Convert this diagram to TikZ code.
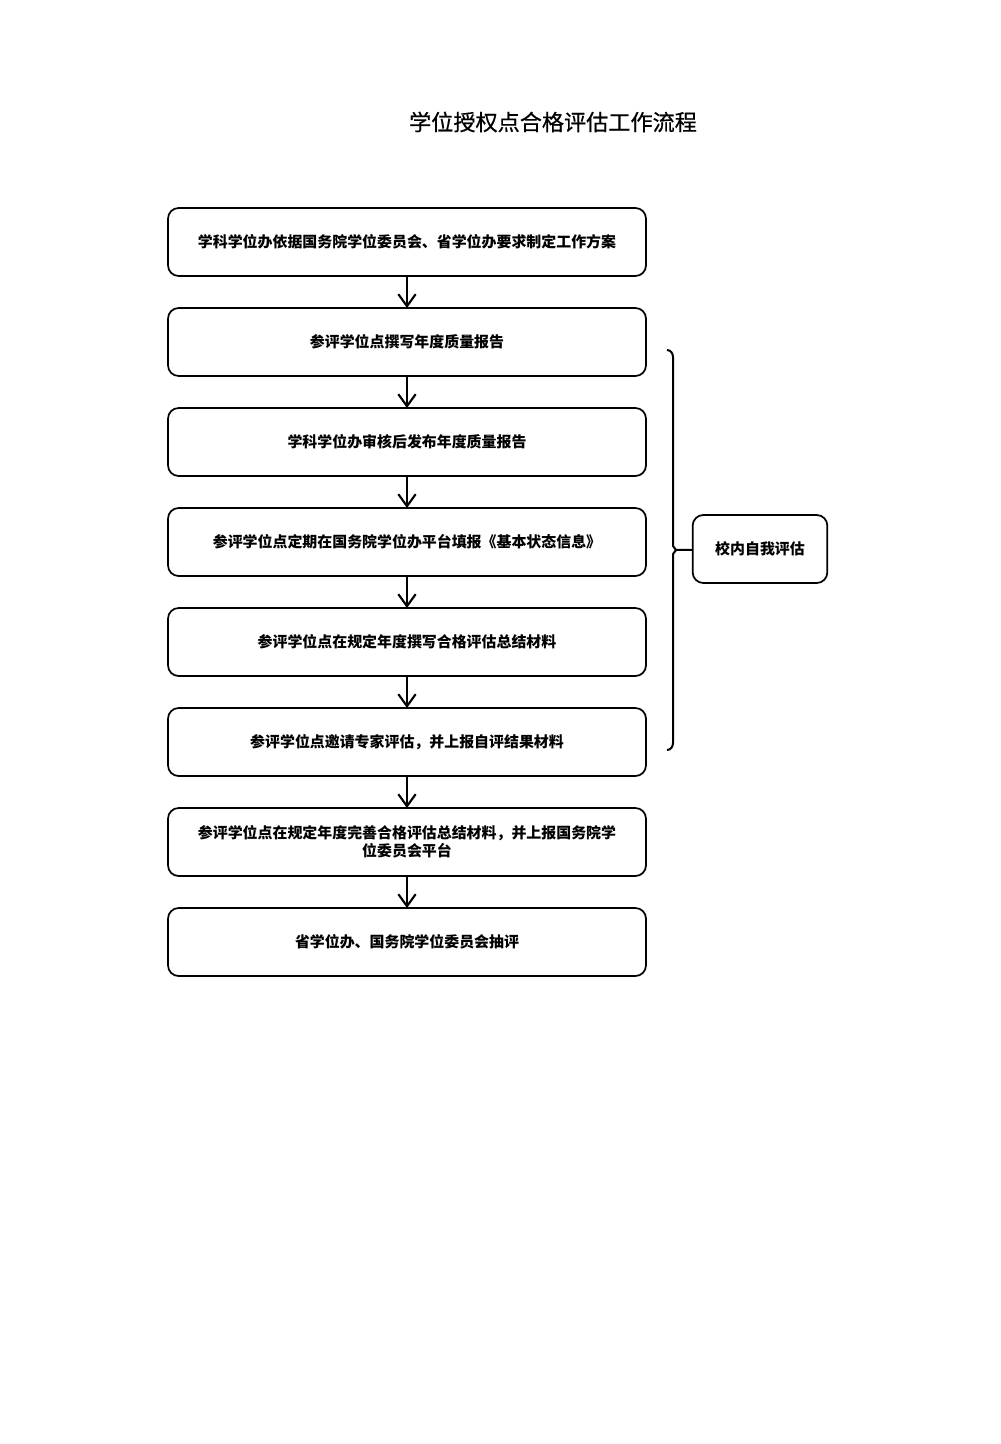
\documentclass[tikz,border=0pt]{standalone}
\usepackage{fontspec}
\newfontfamily\cjk{Noto Sans CJK SC}
\newfontfamily\cjktitle[FakeBold=0.6]{Noto Sans CJK SC}
\usetikzlibrary{positioning,arrows.meta}

\tikzset{
    stepbox/.style={draw, line width=1.3pt, rounded corners=8pt, outer sep=0pt,
        minimum width=358.5pt, minimum height=51pt, align=center, inner sep=2pt,
        font=\cjk\bfseries\fontsize{11.2}{13.5}\selectfont},
    sidebox/.style={stepbox, minimum width=101pt},
    flow/.style={line width=1.5pt, -{Straight Barb[length=9pt,width=13pt,line width=1.6pt]}},
    bracket/.style={line width=1.5pt}
}

\begin{document}
\begin{tikzpicture}[x=0.75pt,y=-0.75pt]
    \useasboundingbox (0,0) rectangle (1000,1444);

    % Title
    \node[font=\cjktitle\fontsize{16.6}{18}\selectfont] (title) at (553,122) {学位授权点合格评估工作流程};

    % Draw the steps
    \node[stepbox] (b1) at (407,242) {学科学位办依据国务院学位委员会、省学位办要求制定工作方案};
    \node[stepbox, below=24pt of b1] (b2) {参评学位点撰写年度质量报告};
    \node[stepbox, below=24pt of b2] (b3) {学科学位办审核后发布年度质量报告};
    \node[stepbox, below=24pt of b3] (b4) {参评学位点定期在国务院学位办平台填报《基本状态信息》};
    \node[stepbox, below=24pt of b4] (b5) {参评学位点在规定年度撰写合格评估总结材料};
    \node[stepbox, below=24pt of b5] (b6) {参评学位点邀请专家评估，并上报自评结果材料};
    \node[stepbox, below=24pt of b6] (b7) {参评学位点在规定年度完善合格评估总结材料，并上报国务院学\\位委员会平台};
    \node[stepbox, below=24pt of b7] (b8) {省学位办、国务院学位委员会抽评};

    % Draw the arrows between steps
    \foreach \a/\b in {b1/b2,b2/b3,b3/b4,b4/b5,b5/b6,b6/b7,b7/b8}
        \draw[flow] (\a) -- (\b);

    % Draw the bracket and the side box
    \node[sidebox] (self) at (760,549) {校内自我评估};
    \draw[bracket] (667,350) to[out=0,in=90] (673,357) -- (673,546)
        -- (676,550) -- (673,554) -- (673,743) to[out=-90,in=0] (667,750);
    \coordinate (tip) at (676,550);
    \draw[line width=1.5pt] (tip) -- (self);
\end{tikzpicture}
\end{document}
